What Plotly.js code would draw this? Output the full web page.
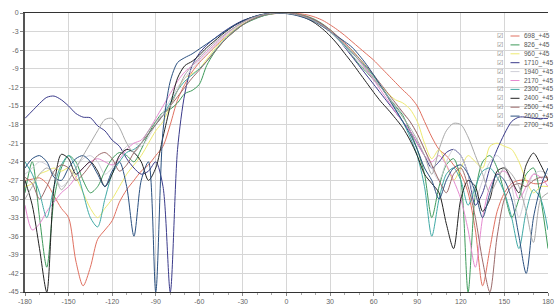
<!DOCTYPE html>
<html>
<head>
<meta charset="utf-8">
<script src="https://cdn.plot.ly/plotly-3.0.1.min.js"></script>
<style>html,body{margin:0;padding:0;background:#fff}#chart{width:558px;height:307px}</style>
</head>
<body>
<div id="chart"></div>
<script>
// Angles, degrees (-180 .. 180, step 5)
const angles = [-180,-175,-170,-165,-160,-155,-150,-145,-140,-135,
  -130,-125,-120,-115,-110,-105,-100,-95,-90,-85,
  -80,-75,-70,-65,-60,-55,-50,-45,-40,-35,
  -30,-25,-20,-15,-10,-5,0,5,10,15,
  20,25,30,35,40,45,50,55,60,65,
  70,75,80,85,90,95,100,105,110,115,
  120,125,130,135,140,145,150,155,160,165,
  170,175,180];

const seriesNames = ["698_+45","826_+45","960_+45","1710_+45","1940_+45","2170_+45","2300_+45","2400_+45","2500_+45","2600_+45","2700_+45"];
const seriesColors = ["#e07060","#3d9a5a","#eeea70","#3a3a8a","#cfcfd8","#e58ad0","#3fa9a5","#222222","#9b6a6a","#2a5080","#a8a8a8"];

const s698 = [-27,-26.8,-26.6,-27.5,-29.5,-31.5,-33,-40,-44,-41,
  -36.5,-35,-33.5,-30.5,-28.5,-27,-25.5,-24.5,-23,-21.5,
  -18,-14,-11.5,-9.5,-8,-6.8,-5.6,-4.5,-3.5,-2.6,
  -1.8,-1.2,-0.7,-0.35,-0.15,-0.05,0,-0.05,-0.15,-0.35,
  -0.7,-1.2,-1.9,-2.7,-3.6,-4.6,-5.6,-6.6,-7.6,-8.8,
  -10,-11.2,-12.4,-13.5,-15,-17.5,-20,-22,-23,-24.5,
  -26,-29,-35,-44,-38,-32,-29,-27.5,-27,-27,
  -27.5,-27.5,-27];
const s826 = [-29,-24,-33,-41,-30,-25,-23,-24,-27,-29,
  -28,-25.5,-23.5,-22.5,-23,-24,-22,-19.5,-17.5,-16,
  -15.5,-14.5,-13,-12.5,-11.5,-8.5,-6.5,-5,-3.8,-2.8,
  -1.9,-1.3,-0.8,-0.4,-0.15,0,-0.05,-0.1,-0.3,-0.6,
  -1.1,-1.8,-2.7,-3.8,-5.2,-6.8,-8.3,-9.5,-10.8,-12,
  -13.5,-15,-16.5,-19,-22,-26,-33,-28,-24.5,-23.5,
  -27,-45,-29,-24,-23,-25,-29,-33,-30,-26,
  -25,-30,-38];
const s960 = [-28,-27.5,-26,-25.5,-25,-25.5,-25,-26.5,-29,-31.5,
  -33,-31.5,-30,-28,-26,-24.5,-23,-21,-19,-17.5,
  -15,-12.5,-10.5,-9.8,-9,-7.5,-6,-4.6,-3.5,-2.5,
  -1.7,-1.1,-0.6,-0.3,-0.1,0,-0.05,-0.15,-0.35,-0.7,
  -1.2,-1.9,-2.8,-3.8,-4.9,-6,-7.3,-8.7,-10.2,-11.8,
  -13,-14,-14.5,-15.5,-17.5,-21,-23.5,-22,-24.5,-27,
  -25,-23,-24,-25,-21.5,-21,-21.5,-22,-24,-27,
  -29,-28,-28];
const s1710 = [-17,-15.8,-14.6,-13.6,-13.4,-14,-15,-16.2,-16.8,-16.9,
  -18.2,-19,-20.5,-21.5,-23.5,-25,-26,-25.5,-24,-28,
  -45,-22,-13,-8.5,-6.5,-5.2,-4.2,-3.3,-2.5,-1.8,
  -1.2,-0.8,-0.45,-0.2,-0.05,0,-0.05,-0.15,-0.35,-0.7,
  -1.2,-1.9,-2.9,-4.1,-5.5,-7,-8.5,-10,-11.5,-13,
  -14.5,-16,-17.5,-19,-21,-23,-25,-24,-22.5,-22,
  -23,-26,-31,-29,-25,-22,-19.5,-17.5,-16.8,-16.8,
  -17,-17,-17];
const s1940 = [-26,-25,-24,-24.5,-26,-28,-27,-25,-23.5,-23,
  -24,-26,-25,-23,-21.5,-21,-21.5,-20,-18,-16,
  -14,-12,-10.5,-9,-7.8,-6.6,-5.4,-4.3,-3.3,-2.4,
  -1.6,-1,-0.55,-0.25,-0.08,0,-0.05,-0.15,-0.4,-0.8,
  -1.4,-2.2,-3.1,-4.2,-5.4,-6.7,-8,-9.3,-10.6,-12,
  -13.4,-14.8,-16.2,-17.5,-19.5,-22,-25,-27,-24,-22,
  -23,-26,-30,-27,-24,-23,-24.5,-28,-33,-29,
  -26,-25.5,-26];
const s2170 = [-31,-35,-34,-32,-30.5,-29,-28,-26.5,-25,-24,
  -23.5,-24,-24.5,-23.5,-22,-21,-20.5,-19,-17,-15,
  -13,-11,-9.5,-8.5,-7.5,-6.3,-5.2,-4.1,-3.1,-2.2,
  -1.5,-0.9,-0.5,-0.2,-0.05,0,-0.05,-0.15,-0.4,-0.8,
  -1.3,-2,-2.9,-3.9,-5,-6.3,-7.7,-9.2,-10.8,-12.5,
  -14.2,-16,-17.5,-19,-21,-23,-24,-23,-24.5,-27,
  -30,-35,-41,-33,-28,-26,-25.5,-27,-30,-28,
  -26,-26.5,-28];
const s2300 = [-24,-26,-29,-33,-28,-24.5,-23,-25,-29,-33,
  -34.5,-30,-26,-24,-22.5,-22,-21,-19.5,-18,-16.5,
  -14.5,-12.5,-11,-10,-9,-7.8,-6.3,-4.9,-3.7,-2.7,
  -1.9,-1.2,-0.7,-0.35,-0.1,0,-0.05,-0.2,-0.4,-0.8,
  -1.3,-2.1,-3,-4.1,-5.2,-6.4,-7.6,-8.8,-10.2,-11.8,
  -13.5,-15.5,-17.5,-20,-23,-28,-36,-30,-26,-25,
  -27,-31,-28,-25.5,-25,-26.5,-29,-33,-38,-32,
  -28.5,-30,-35];
const s2400 = [-27,-31,-38,-45,-28,-22.8,-23.5,-26,-25,-24,
  -25.5,-28,-26,-23,-22,-22.5,-24,-27,-25,-20,
  -15,-10.5,-8.5,-7.8,-6.8,-5.6,-4.6,-3.6,-2.7,-1.9,
  -1.3,-0.8,-0.45,-0.2,-0.05,0,-0.05,-0.2,-0.5,-1,
  -1.7,-2.6,-3.7,-5,-6.5,-8,-9.6,-11.2,-12.8,-14.3,
  -15.6,-17,-18.5,-20.5,-23,-26,-27.5,-29,-34,-38,
  -30,-27,-28,-32,-30,-25.5,-25,-27,-29,-24.5,
  -22.6,-24.5,-27];
const s2500 = [-26.5,-27.5,-30,-28,-25.5,-24.5,-25,-27,-26,-24.5,
  -23,-22.5,-23.5,-25.5,-24.5,-22.5,-21,-19.5,-18,-16.5,
  -15,-13.5,-12,-10.5,-9.2,-7.8,-6.4,-5,-3.8,-2.8,
  -1.9,-1.2,-0.7,-0.3,-0.1,0,-0.05,-0.15,-0.35,-0.7,
  -1.2,-1.9,-2.7,-3.7,-4.8,-6,-7.3,-8.6,-10,-11.5,
  -13,-14.5,-16,-17.5,-19.5,-22,-24.5,-27,-29,-26,
  -25,-28,-33,-40,-45,-36,-30,-28,-27.5,-28,
  -27,-26.5,-26.5];
const s2600 = [-25,-23.5,-23,-24,-26.5,-27,-25,-23.5,-23,-24,
  -26,-28,-25.5,-24,-28,-36,-27,-24,-45,-19,
  -11,-8,-7.2,-6.6,-5.8,-5,-4.2,-3.4,-2.6,-1.9,
  -1.3,-0.8,-0.4,-0.15,0,-0.05,-0.1,-0.3,-0.6,-1,
  -1.5,-2.2,-3,-3.8,-4.6,-5.5,-6.8,-8.3,-10,-11.8,
  -13.7,-15.6,-17.5,-19.5,-22,-25,-27,-30,-27,-25,
  -24.5,-26,-29,-33,-29,-26,-27,-30,-36,-42,
  -33,-28,-25];
const s2700 = [-30,-28,-26,-25,-26,-28.5,-27,-25,-23,-21,
  -19,-17.2,-17,-18.5,-21,-22.5,-21,-19,-17.5,-16.5,
  -15,-12.5,-10,-8.5,-7.2,-6,-4.9,-3.9,-3,-2.2,
  -1.5,-0.9,-0.5,-0.2,-0.05,0,-0.05,-0.2,-0.45,-0.85,
  -1.4,-2.1,-3,-4,-5.1,-6.3,-7.6,-9,-10.5,-12,
  -13.6,-15.2,-16.8,-18.5,-20.5,-23,-26,-22,-19,-17.8,
  -18,-20,-23,-26,-29,-27,-25,-26,-28,-32,
  -37,-30,-29];

const seriesValues = [s698,s826,s960,s1710,s1940,s2170,s2300,s2400,s2500,s2600,s2700];

const xTickVals = [-180,-150,-120,-90,-60,-30,0,30,60,90,120,150,180];
const xTickText = ["-180","-150","-120","-90","-60","-30","0","30","60","90","120","150","180"];
const yTickVals = [0,-3,-6,-9,-12,-15,-18,-21,-24,-27,-30,-33,-36,-39,-42,-45];
const yTickText = ["0","-3","-6","-9","-12","-15","-18","-21","-24","-27","-30","-33","-36","-39","-42","-45"];

const W = 558, H = 307, ML = 25, MR = 10, MT = 13, MB = 15;
const PW = W - ML - MR, PH = H - MT - MB;
const px2x = p => (p - ML) / PW;
const py2y = p => 1 - (p - MT) / PH;

const traces = seriesValues.map((v, i) => ({
  x: angles, y: v, type: 'scatter', mode: 'lines', name: seriesNames[i],
  line: {color: seriesColors[i], width: 1, shape: 'spline', smoothing: 0.8},
  showlegend: false, hoverinfo: 'skip'
}));

// hand-made compact legend (checkbox, line sample, label)
const shapes = [];
const annotations = [];
const rowTop = 36, rowStep = 8.9;
seriesNames.forEach((n, i) => {
  const py = rowTop + i * rowStep;
  shapes.push({type: 'line', xref: 'paper', yref: 'paper',
    x0: px2x(510.5), x1: px2x(519.5), y0: py2y(py), y1: py2y(py),
    line: {color: seriesColors[i], width: 1}});
  annotations.push({xref: 'paper', yref: 'paper', x: px2x(500), y: py2y(py),
    text: '\u2611', showarrow: false, xanchor: 'center', yanchor: 'middle',
    font: {family: 'DejaVu Sans', size: 7, color: '#777'}});
  annotations.push({xref: 'paper', yref: 'paper', x: px2x(521.5), y: py2y(py),
    text: n, showarrow: false, xanchor: 'left', yanchor: 'middle',
    font: {family: 'Liberation Sans, Arial, sans-serif', size: 6.5, color: '#555'}});
});

const layout = {
  width: W, height: H,
  margin: {l: ML, r: MR, t: MT, b: MB, pad: 0},
  paper_bgcolor: '#fff', plot_bgcolor: '#fff',
  font: {family: 'Liberation Sans, Arial, sans-serif', size: 7, color: '#666'},
  showlegend: false,
  xaxis: {
    range: [-180, 180], tickmode: 'array', tickvals: xTickVals, ticktext: xTickText,
    showgrid: true, gridcolor: '#d6d6d6', gridwidth: 1, zeroline: false,
    showline: true, linecolor: '#333', linewidth: 1, mirror: true,
    ticks: 'outside', ticklen: 3, tickcolor: '#888',
    minor: {dtick: 10, tick0: 0, ticks: 'outside', ticklen: 2, tickcolor: '#aaa', showgrid: false},
    tickfont: {size: 7, color: '#666'}, fixedrange: true
  },
  yaxis: {
    range: [-45, 0], tickmode: 'array', tickvals: yTickVals, ticktext: yTickText,
    showgrid: true, gridcolor: '#d6d6d6', gridwidth: 1, zeroline: false,
    showline: true, linecolor: '#555', linewidth: 2,
    ticks: 'outside', ticklen: 3, tickcolor: '#888',
    tickfont: {size: 7, color: '#666'}, fixedrange: true
  },
  shapes: shapes,
  annotations: annotations
};

Plotly.newPlot('chart', traces, layout, {staticPlot: true, displayModeBar: false});
</script>
</body>
</html>
